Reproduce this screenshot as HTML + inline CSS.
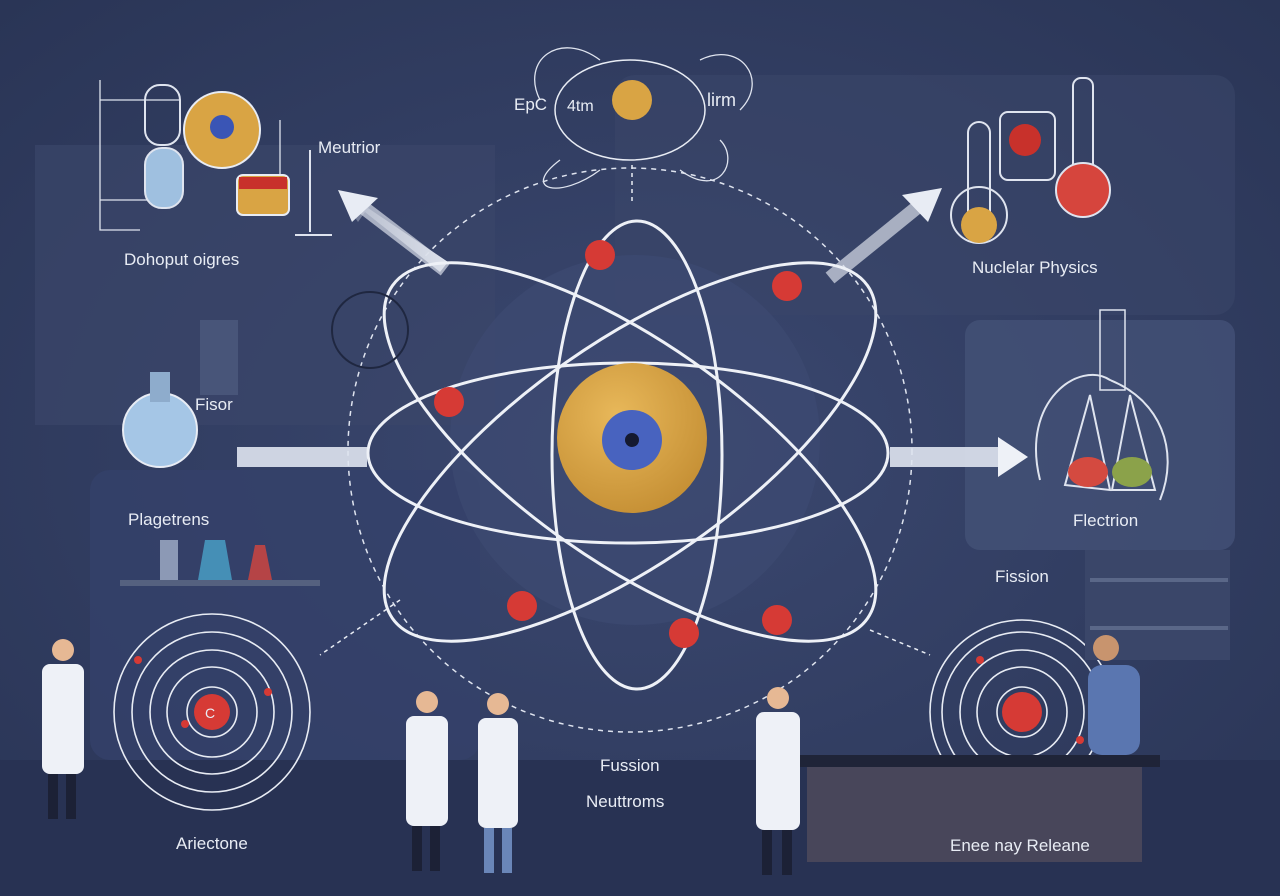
<!DOCTYPE html>
<html><head><meta charset="utf-8"><style>
html,body{margin:0;padding:0;background:#2e3a5c;}
svg{display:block}
text{font-family:"Liberation Sans",sans-serif;fill:#e8ecf4}
</style></head><body>
<svg width="1280" height="896" viewBox="0 0 1280 896" xmlns="http://www.w3.org/2000/svg">
<defs>
<radialGradient id="bg" cx="50%" cy="50%" r="70%"><stop offset="0" stop-color="#3b4870"/><stop offset="1" stop-color="#2a3556"/></radialGradient>
<radialGradient id="nuc" cx="40%" cy="35%" r="70%"><stop offset="0" stop-color="#e8b85a"/><stop offset="1" stop-color="#c58f34"/></radialGradient>
<linearGradient id="arr" x1="0" x2="1"><stop offset="0" stop-color="#e8ecf4" stop-opacity="0.2"/><stop offset="1" stop-color="#e8ecf4"/></linearGradient>
</defs>
<rect width="1280" height="896" fill="url(#bg)"/>
<!-- panels -->
<rect x="35" y="145" width="460" height="280" fill="#3a4669" opacity="0.7"/>
<rect x="615" y="75" width="620" height="240" rx="20" fill="#3a4669" opacity="0.6"/>
<rect x="965" y="320" width="270" height="230" rx="15" fill="#445177" opacity="0.8"/>
<rect x="90" y="470" width="390" height="290" rx="20" fill="#35416a" opacity="0.8"/>
<rect x="0" y="760" width="1280" height="136" fill="#283253"/>
<circle cx="635" cy="440" r="185" fill="#3d4a72" opacity="0.7"/>
<!-- big dashed circle -->
<circle cx="630" cy="450" r="282" fill="none" stroke="#dfe4ef" stroke-width="1.5" stroke-dasharray="5 5"/>
<!-- arrows -->
<polygon points="440,272 365,212 358,222 340,195 375,200 368,208 448,262" fill="url(#arr)" transform="rotate(0)"/>
<path d="M445,270 L360,205" stroke="#d8dde8" stroke-width="14" opacity="0.7"/>
<polygon points="338,190 378,198 352,222" fill="#e8ecf4"/>
<path d="M830,278 L920,205" stroke="#d8dde8" stroke-width="14" opacity="0.7"/>
<polygon points="942,188 902,195 928,222" fill="#e8ecf4"/>
<rect x="237" y="447" width="130" height="20" fill="#dfe4ef" opacity="0.9"/>
<rect x="890" y="447" width="110" height="20" fill="#dfe4ef" opacity="0.9"/>
<polygon points="998,437 1028,457 998,477" fill="#eef1f7"/>
<path d="M632,165 L632,205" stroke="#e8ecf4" stroke-width="1.5" stroke-dasharray="4 4"/>
<path d="M400,600 L320,655" stroke="#e8ecf4" stroke-width="1.5" stroke-dasharray="4 4"/>
<path d="M870,630 L930,655" stroke="#e8ecf4" stroke-width="1.5" stroke-dasharray="4 4"/>
<!-- orbits -->
<g fill="none" stroke="#eef1f7" stroke-width="3">
<ellipse cx="628" cy="453" rx="260" ry="90"/>
<ellipse cx="637" cy="455" rx="85" ry="234"/>
<ellipse cx="630" cy="452" rx="290" ry="110" transform="rotate(35 630 452)"/>
<ellipse cx="630" cy="452" rx="290" ry="110" transform="rotate(-35 630 452)"/>
</g>
<!-- nucleus -->
<circle cx="632" cy="438" r="75" fill="url(#nuc)"/>
<circle cx="632" cy="440" r="30" fill="#4863bf"/>
<circle cx="632" cy="440" r="7" fill="#151a30"/>
<!-- electrons -->
<g fill="#d63a35">
<circle cx="600" cy="255" r="15"/><circle cx="787" cy="286" r="15"/><circle cx="449" cy="402" r="15"/>
<circle cx="522" cy="606" r="15"/><circle cx="684" cy="633" r="15"/><circle cx="777" cy="620" r="15"/>
</g>
<!-- top center diagram -->
<ellipse cx="630" cy="110" rx="75" ry="50" fill="none" stroke="#e8ecf4" stroke-width="1.5"/>
<circle cx="632" cy="100" r="20" fill="#d9a444"/>
<path d="M540,100 C520,60 560,30 600,60 M700,60 C740,40 770,80 740,110 M560,160 C520,190 560,200 600,170 M680,170 C720,200 740,160 720,140" fill="none" stroke="#dfe4ef" stroke-width="1.3"/>
<text x="514" y="110" font-size="17">EpC</text>
<text x="567" y="111" font-size="16">4tm</text>
<text x="707" y="106" font-size="18">lirm</text>
<!-- top left diagram -->
<path d="M100,80 L100,230 L140,230 M100,100 L180,100 M100,200 L150,200 M280,120 L280,210 L250,210" fill="none" stroke="#dfe4ef" stroke-width="1.3"/>
<rect x="145" y="85" width="35" height="60" rx="15" fill="none" stroke="#dfe4ef" stroke-width="2"/>
<rect x="145" y="148" width="38" height="60" rx="17" fill="#9fc0e0" stroke="#dfe4ef" stroke-width="2"/>
<circle cx="222" cy="130" r="38" fill="#d9a444" stroke="#e8ecf4" stroke-width="2"/>
<circle cx="222" cy="127" r="12" fill="#3a55b5"/>
<rect x="237" y="175" width="52" height="40" rx="6" fill="#d9a444" stroke="#e8ecf4" stroke-width="2"/>
<rect x="239" y="177" width="48" height="12" fill="#c8312b"/>
<path d="M310,150 L310,232 M295,235 L332,235" stroke="#dfe4ef" stroke-width="2"/>
<text x="318" y="153" font-size="17">Meutrior</text>
<text x="124" y="265" font-size="17">Dohoput oigres</text>
<!-- top right flasks -->
<rect x="968" y="122" width="22" height="110" rx="11" fill="none" stroke="#dfe4ef" stroke-width="2"/>
<circle cx="979" cy="215" r="28" fill="none" stroke="#dfe4ef" stroke-width="2"/>
<circle cx="979" cy="225" r="18" fill="#d9a444"/>
<rect x="1000" y="112" width="55" height="68" rx="8" fill="none" stroke="#dfe4ef" stroke-width="2"/>
<circle cx="1025" cy="140" r="16" fill="#c8312b"/>
<rect x="1073" y="78" width="20" height="110" rx="8" fill="none" stroke="#dfe4ef" stroke-width="2"/>
<circle cx="1083" cy="190" r="27" fill="#d6453d" stroke="#dfe4ef" stroke-width="2"/>
<text x="972" y="273" font-size="17">Nuclelar Physics</text>
<!-- right flasks -->
<path d="M1040,480 C1020,400 1080,360 1110,380 C1160,400 1180,450 1160,500" fill="none" stroke="#dfe4ef" stroke-width="2"/>
<path d="M1090,395 L1065,485 L1110,490 Z M1130,395 L1112,490 L1155,490 Z" fill="none" stroke="#dfe4ef" stroke-width="2"/>
<ellipse cx="1088" cy="472" rx="20" ry="15" fill="#d44a40"/>
<ellipse cx="1132" cy="472" rx="20" ry="15" fill="#8ba24a"/>
<rect x="1100" y="310" width="25" height="80" fill="none" stroke="#dfe4ef" stroke-width="1.5"/>
<text x="1073" y="526" font-size="17">Flectrion</text>
<!-- left flask -->
<circle cx="160" cy="430" r="37" fill="#a5c6e6" stroke="#e8ecf4" stroke-width="2"/>
<rect x="150" y="372" width="20" height="30" fill="#8eaccc"/>
<text x="195" y="410" font-size="17">Fisor</text>
<circle cx="370" cy="330" r="38" fill="none" stroke="#1f2740" stroke-width="2"/>
<rect x="200" y="320" width="38" height="75" fill="#485579"/>
<text x="128" y="525" font-size="17">Plagetrens</text>
<!-- left shelf -->
<rect x="120" y="580" width="200" height="6" fill="#55617f"/>
<rect x="160" y="540" width="18" height="40" fill="#c8d6ea" opacity="0.6"/>
<polygon points="205,540 225,540 232,580 198,580" fill="#4aa3c9" opacity="0.8"/>
<polygon points="255,545 265,545 272,580 248,580" fill="#d6453d" opacity="0.8"/>
<!-- atom diagrams bottom -->
<g fill="none" stroke="#e8ecf4" stroke-width="1.6">
<circle cx="212" cy="712" r="25"/><circle cx="212" cy="712" r="45"/><circle cx="212" cy="712" r="62"/><circle cx="212" cy="712" r="80"/><circle cx="212" cy="712" r="98"/>
<circle cx="1022" cy="712" r="25"/><circle cx="1022" cy="712" r="45"/><circle cx="1022" cy="712" r="62"/><circle cx="1022" cy="712" r="80"/><circle cx="1022" cy="712" r="92"/>
</g>
<circle cx="212" cy="712" r="18" fill="#d63a35"/><text x="205" y="718" font-size="14">C</text>
<circle cx="1022" cy="712" r="20" fill="#d63a35"/>
<g fill="#d63a35"><circle cx="185" cy="724" r="4"/><circle cx="268" cy="692" r="4"/><circle cx="138" cy="660" r="4"/><circle cx="980" cy="660" r="4"/><circle cx="1080" cy="740" r="4"/><circle cx="960" cy="770" r="4"/></g>
<text x="176" y="849" font-size="17">Ariectone</text>
<text x="600" y="771" font-size="17">Fussion</text>
<text x="586" y="807" font-size="17">Neuttroms</text>
<text x="995" y="582" font-size="17">Fission</text>
<!-- bench -->
<rect x="800" y="755" width="360" height="12" fill="#1f2438"/>
<rect x="807" y="767" width="335" height="95" fill="#48465a"/>
<text x="950" y="851" font-size="17">Enee nay Releane</text>
<!-- right shelf -->
<rect x="1085" y="550" width="145" height="110" fill="#3a4669"/>
<rect x="1090" y="578" width="138" height="4" fill="#5a6788"/><rect x="1090" y="626" width="138" height="4" fill="#5a6788"/>
<!-- scientists -->
<g>
<circle cx="63" cy="650" r="11" fill="#e6b894"/><rect x="42" y="664" width="42" height="110" rx="8" fill="#eef1f7"/><rect x="48" y="774" width="10" height="45" fill="#1c2136"/><rect x="66" y="774" width="10" height="45" fill="#1c2136"/>
<circle cx="427" cy="702" r="11" fill="#e6b894"/><rect x="406" y="716" width="42" height="110" rx="8" fill="#eef1f7"/><rect x="412" y="826" width="10" height="45" fill="#1c2136"/><rect x="430" y="826" width="10" height="45" fill="#1c2136"/>
<circle cx="498" cy="704" r="11" fill="#e6b894"/><rect x="478" y="718" width="40" height="110" rx="8" fill="#eef1f7"/><rect x="484" y="828" width="10" height="45" fill="#6a86b8"/><rect x="502" y="828" width="10" height="45" fill="#6a86b8"/>
<circle cx="778" cy="698" r="11" fill="#e6b894"/><rect x="756" y="712" width="44" height="118" rx="8" fill="#eef1f7"/><rect x="762" y="830" width="10" height="45" fill="#1c2136"/><rect x="782" y="830" width="10" height="45" fill="#1c2136"/>
<circle cx="1106" cy="648" r="13" fill="#c8946e"/><rect x="1088" y="665" width="52" height="90" rx="14" fill="#5a76b0"/>
</g>
</svg>
</body></html>
